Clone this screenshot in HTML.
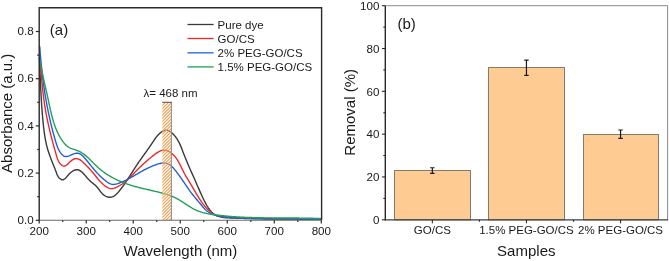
<!DOCTYPE html>
<html><head><meta charset="utf-8">
<style>
html,body{margin:0;padding:0;background:#fff;}
body{width:669px;height:261px;overflow:hidden;}
svg{display:block;will-change:transform;}
text{font-family:"Liberation Sans",sans-serif;fill:#1a1a1a;}
.t12{font-size:11.6px;}
.t11{font-size:11.6px;}
.t115{font-size:11.5px;}
.t15{font-size:15px;}
</style></head><body>
<svg width="669" height="261" viewBox="0 0 669 261">
<rect width="669" height="261" fill="#fff"/>
<path d="M39.52 57.99 L39.56 59.07 L39.60 60.15 L39.64 61.24 L39.68 62.32 L39.72 63.40 L39.76 64.48 L39.80 65.56 L39.84 66.64 L39.88 67.72 L39.92 68.80 L39.96 69.88 L40.00 70.96 L40.04 72.04 L40.08 73.12 L40.12 74.20 L40.16 75.28 L40.21 76.36 L40.25 77.44 L40.29 78.52 L40.34 79.59 L40.38 80.67 L40.43 81.75 L40.47 82.83 L40.52 83.91 L40.57 84.99 L40.61 86.07 L40.66 87.14 L40.71 88.22 L40.76 89.30 L40.82 90.38 L40.87 91.45 L40.92 92.53 L40.98 93.61 L41.04 94.69 L41.10 95.76 L41.16 96.84 L41.22 97.92 L41.28 99.00 L41.34 100.07 L41.41 101.15 L41.48 102.23 L41.55 103.31 L41.62 104.38 L41.69 105.46 L41.76 106.54 L41.84 107.61 L41.92 108.69 L42.00 109.77 L42.08 110.84 L42.17 111.92 L42.25 113.00 L42.34 114.07 L42.43 115.15 L42.53 116.23 L42.62 117.30 L42.72 118.38 L42.82 119.46 L42.92 120.53 L43.03 121.61 L43.14 122.69 L43.25 123.76 L43.36 124.84 L43.48 125.92 L43.60 127.00 L43.72 128.07 L43.85 129.15 L43.98 130.22 L44.12 131.30 L44.26 132.37 L44.41 133.44 L44.56 134.51 L44.72 135.58 L44.89 136.65 L45.07 137.71 L45.25 138.78 L45.45 139.84 L45.65 140.89 L45.86 141.95 L46.09 143.00 L46.32 144.05 L46.56 145.10 L46.82 146.14 L47.09 147.18 L47.37 148.21 L47.66 149.24 L47.97 150.27 L48.29 151.29 L48.62 152.31 L48.96 153.32 L49.32 154.34 L49.68 155.35 L50.04 156.36 L50.42 157.37 L50.80 158.38 L51.19 159.38 L51.59 160.39 L51.98 161.40 L52.38 162.40 L52.79 163.41 L53.19 164.42 L53.60 165.44 L54.00 166.45 L54.41 167.47 L54.81 168.49 L55.21 169.51 L55.61 170.54 L56.00 171.57 L56.39 172.61 L56.78 173.65 L57.18 174.68 L57.63 175.68 L58.14 176.62 L58.75 177.51 L59.48 178.30 L60.32 178.97 L61.22 179.47 L62.13 179.74 L63.01 179.75 L63.83 179.48 L64.63 178.99 L65.40 178.32 L66.16 177.51 L66.93 176.61 L67.71 175.67 L68.53 174.73 L69.39 173.83 L70.29 172.97 L71.21 172.19 L72.15 171.49 L73.10 170.88 L74.06 170.38 L75.01 170.01 L75.95 169.78 L76.87 169.70 L77.76 169.78 L78.63 170.00 L79.49 170.36 L80.32 170.84 L81.14 171.43 L81.94 172.10 L82.73 172.85 L83.52 173.66 L84.29 174.52 L85.07 175.41 L85.84 176.32 L86.61 177.23 L87.38 178.13 L88.16 179.01 L88.94 179.84 L89.73 180.63 L90.53 181.35 L91.34 182.04 L92.15 182.69 L92.95 183.33 L93.74 183.96 L94.52 184.60 L95.29 185.26 L96.03 185.96 L96.74 186.72 L97.43 187.52 L98.11 188.38 L98.77 189.26 L99.43 190.15 L100.11 191.05 L100.81 191.94 L101.53 192.81 L102.30 193.63 L103.11 194.41 L103.98 195.11 L104.92 195.74 L105.91 196.28 L106.95 196.72 L107.99 197.03 L109.03 197.22 L110.05 197.27 L111.03 197.18 L111.98 196.96 L112.89 196.62 L113.77 196.18 L114.63 195.64 L115.46 195.01 L116.26 194.31 L117.04 193.56 L117.80 192.75 L118.54 191.91 L119.26 191.04 L119.97 190.15 L120.66 189.27 L121.34 188.38 L122.01 187.48 L122.67 186.59 L123.32 185.70 L123.96 184.80 L124.58 183.90 L125.20 183.01 L125.81 182.11 L126.42 181.21 L127.02 180.31 L127.61 179.41 L128.19 178.50 L128.78 177.60 L129.35 176.70 L129.93 175.80 L130.50 174.90 L131.07 173.99 L131.64 173.09 L132.21 172.19 L132.78 171.29 L133.35 170.39 L133.92 169.49 L134.49 168.59 L135.07 167.70 L135.65 166.80 L136.23 165.91 L136.82 165.01 L137.41 164.12 L138.02 163.23 L138.62 162.34 L139.24 161.45 L139.85 160.57 L140.48 159.68 L141.10 158.80 L141.73 157.92 L142.37 157.03 L143.00 156.15 L143.64 155.27 L144.27 154.38 L144.91 153.50 L145.55 152.62 L146.18 151.73 L146.82 150.85 L147.45 149.96 L148.08 149.08 L148.70 148.19 L149.32 147.30 L149.94 146.41 L150.55 145.51 L151.15 144.62 L151.75 143.72 L152.34 142.82 L152.93 141.92 L153.52 141.02 L154.11 140.13 L154.72 139.24 L155.34 138.37 L155.98 137.50 L156.64 136.66 L157.33 135.83 L158.05 135.03 L158.80 134.24 L159.60 133.49 L160.44 132.76 L161.33 132.06 L162.27 131.42 L163.24 130.86 L164.24 130.42 L165.26 130.15 L166.28 130.09 L167.30 130.25 L168.30 130.60 L169.27 131.11 L170.22 131.71 L171.12 132.38 L171.98 133.07 L172.79 133.80 L173.56 134.56 L174.30 135.34 L174.99 136.15 L175.65 136.99 L176.28 137.85 L176.88 138.73 L177.45 139.63 L177.99 140.54 L178.51 141.48 L179.00 142.43 L179.48 143.39 L179.94 144.37 L180.38 145.36 L180.81 146.35 L181.22 147.36 L181.63 148.37 L182.03 149.38 L182.42 150.40 L182.81 151.42 L183.21 152.44 L183.60 153.46 L183.99 154.48 L184.39 155.49 L184.79 156.51 L185.20 157.51 L185.60 158.52 L186.01 159.52 L186.43 160.52 L186.84 161.52 L187.26 162.52 L187.68 163.51 L188.11 164.51 L188.53 165.50 L188.96 166.49 L189.39 167.48 L189.82 168.46 L190.25 169.45 L190.68 170.43 L191.12 171.42 L191.55 172.40 L191.99 173.38 L192.43 174.37 L192.86 175.35 L193.30 176.33 L193.74 177.31 L194.18 178.29 L194.61 179.28 L195.05 180.26 L195.49 181.24 L195.92 182.23 L196.36 183.21 L196.79 184.20 L197.22 185.18 L197.66 186.17 L198.09 187.16 L198.52 188.15 L198.95 189.14 L199.38 190.13 L199.81 191.12 L200.24 192.11 L200.68 193.10 L201.12 194.09 L201.56 195.08 L202.02 196.06 L202.47 197.05 L202.94 198.03 L203.41 199.01 L203.89 199.98 L204.38 200.95 L204.88 201.92 L205.40 202.88 L205.92 203.84 L206.46 204.80 L207.01 205.75 L207.58 206.68 L208.16 207.61 L208.76 208.52 L209.39 209.40 L210.04 210.26 L210.71 211.09 L211.42 211.88 L212.15 212.62 L212.91 213.32 L213.71 213.98 L214.55 214.57 L215.43 215.10 L216.34 215.58 L217.29 215.99 L218.27 216.35 L219.29 216.66 L220.33 216.92 L221.39 217.15 L222.47 217.33 L223.57 217.48 L224.69 217.60 L225.81 217.70 L226.94 217.78 L228.07 217.84 L229.20 217.89 L230.33 217.94 L231.45 217.98 L232.57 218.02 L233.67 218.06 L234.77 218.10 L235.86 218.14 L236.94 218.18 L238.02 218.22 L239.10 218.26 L240.17 218.30 L241.23 218.34 L242.30 218.38 L243.36 218.42 L244.42 218.46 L245.48 218.50 L246.55 218.53 L247.61 218.57 L248.68 218.60 L249.74 218.63 L250.81 218.66 L251.88 218.69 L252.95 218.71 L254.02 218.74 L255.09 218.77 L256.17 218.79 L257.24 218.81 L258.31 218.83 L259.39 218.85 L260.46 218.87 L261.54 218.89 L262.62 218.91 L263.70 218.93 L264.77 218.94 L265.85 218.96 L266.93 218.97 L268.01 218.99 L269.09 219.00 L270.18 219.01 L271.26 219.02 L272.34 219.03 L273.42 219.04 L274.51 219.05 L275.59 219.06 L276.67 219.07 L277.76 219.08 L278.84 219.09 L279.92 219.09 L281.01 219.10 L282.09 219.11 L283.18 219.12 L284.26 219.12 L285.35 219.13 L286.43 219.13 L287.52 219.14 L288.60 219.14 L289.69 219.15 L290.77 219.16 L291.86 219.16 L292.94 219.17 L294.02 219.17 L295.11 219.18 L296.19 219.18 L297.27 219.19 L298.36 219.20 L299.44 219.20 L300.52 219.21 L301.60 219.22 L302.68 219.22 L303.76 219.23 L304.84 219.24 L305.92 219.25 L307.00 219.26 L308.08 219.26 L309.16 219.27 L310.23 219.29 L311.31 219.30 L312.38 219.31 L313.46 219.32 L314.53 219.33 L315.61 219.35 L316.68 219.36 L317.75 219.38 L318.82 219.39 L319.89 219.41 L320.95 219.43" fill="none" stroke="#3a3a3a" stroke-width="1.4" stroke-linejoin="round"/>
<path d="M39.38 57.00 L39.50 57.96 L39.61 58.91 L39.72 59.87 L39.83 60.82 L39.94 61.78 L40.04 62.74 L40.14 63.69 L40.24 64.65 L40.34 65.61 L40.44 66.57 L40.54 67.53 L40.63 68.49 L40.73 69.45 L40.82 70.41 L40.92 71.37 L41.01 72.33 L41.10 73.29 L41.19 74.25 L41.28 75.21 L41.37 76.18 L41.46 77.14 L41.55 78.10 L41.64 79.06 L41.73 80.02 L41.83 80.98 L41.92 81.95 L42.01 82.91 L42.10 83.87 L42.20 84.83 L42.30 85.79 L42.39 86.75 L42.49 87.72 L42.59 88.68 L42.69 89.64 L42.80 90.60 L42.90 91.56 L43.01 92.52 L43.12 93.48 L43.23 94.44 L43.35 95.39 L43.46 96.35 L43.58 97.31 L43.71 98.27 L43.83 99.22 L43.96 100.18 L44.09 101.13 L44.23 102.09 L44.37 103.04 L44.51 104.00 L44.66 104.95 L44.81 105.90 L44.96 106.85 L45.11 107.80 L45.27 108.75 L45.43 109.70 L45.60 110.65 L45.77 111.60 L45.94 112.55 L46.11 113.49 L46.29 114.44 L46.47 115.39 L46.66 116.33 L46.84 117.28 L47.03 118.22 L47.22 119.17 L47.42 120.11 L47.62 121.05 L47.82 122.00 L48.02 122.94 L48.23 123.88 L48.43 124.82 L48.64 125.76 L48.86 126.70 L49.07 127.64 L49.29 128.58 L49.51 129.52 L49.74 130.46 L49.96 131.40 L50.19 132.34 L50.42 133.27 L50.65 134.21 L50.88 135.15 L51.12 136.09 L51.36 137.02 L51.60 137.96 L51.84 138.89 L52.09 139.83 L52.33 140.77 L52.58 141.70 L52.83 142.64 L53.08 143.57 L53.34 144.51 L53.59 145.44 L53.85 146.37 L54.11 147.31 L54.37 148.24 L54.63 149.17 L54.90 150.11 L55.16 151.04 L55.43 151.97 L55.70 152.91 L55.97 153.84 L56.24 154.77 L56.51 155.71 L56.79 156.64 L57.07 157.57 L57.38 158.49 L57.72 159.41 L58.11 160.31 L58.54 161.20 L59.04 162.08 L59.61 162.93 L60.23 163.74 L60.92 164.47 L61.64 165.11 L62.39 165.61 L63.16 165.94 L63.94 166.09 L64.71 166.02 L65.47 165.75 L66.24 165.32 L67.00 164.76 L67.75 164.10 L68.51 163.37 L69.28 162.60 L70.05 161.84 L70.84 161.11 L71.65 160.44 L72.49 159.86 L73.34 159.38 L74.21 159.02 L75.08 158.77 L75.95 158.64 L76.82 158.65 L77.67 158.79 L78.51 159.05 L79.34 159.43 L80.15 159.91 L80.95 160.46 L81.73 161.07 L82.50 161.73 L83.26 162.43 L84.00 163.14 L84.73 163.85 L85.44 164.55 L86.14 165.25 L86.82 165.95 L87.50 166.65 L88.16 167.34 L88.81 168.04 L89.46 168.73 L90.09 169.43 L90.72 170.14 L91.34 170.84 L91.96 171.56 L92.57 172.28 L93.18 173.00 L93.78 173.74 L94.38 174.48 L94.98 175.22 L95.58 175.97 L96.18 176.72 L96.79 177.47 L97.40 178.22 L98.02 178.96 L98.65 179.70 L99.29 180.43 L99.94 181.16 L100.61 181.87 L101.28 182.57 L101.98 183.25 L102.69 183.92 L103.41 184.58 L104.16 185.21 L104.94 185.83 L105.73 186.41 L106.54 186.95 L107.37 187.43 L108.21 187.85 L109.07 188.19 L109.95 188.44 L110.84 188.58 L111.74 188.61 L112.64 188.54 L113.56 188.36 L114.47 188.10 L115.39 187.76 L116.30 187.37 L117.20 186.94 L118.09 186.48 L118.97 186.00 L119.83 185.51 L120.67 185.01 L121.50 184.50 L122.31 183.98 L123.11 183.44 L123.89 182.88 L124.66 182.30 L125.41 181.69 L126.15 181.06 L126.87 180.41 L127.59 179.75 L128.29 179.07 L128.99 178.38 L129.68 177.68 L130.36 176.98 L131.04 176.27 L131.72 175.57 L132.39 174.87 L133.06 174.18 L133.73 173.49 L134.40 172.81 L135.07 172.13 L135.74 171.45 L136.40 170.78 L137.07 170.10 L137.74 169.44 L138.41 168.77 L139.09 168.11 L139.76 167.45 L140.44 166.80 L141.12 166.15 L141.81 165.49 L142.50 164.85 L143.19 164.20 L143.89 163.55 L144.59 162.91 L145.30 162.27 L146.02 161.63 L146.74 160.99 L147.47 160.35 L148.20 159.72 L148.95 159.08 L149.70 158.44 L150.46 157.81 L151.23 157.17 L152.01 156.54 L152.80 155.90 L153.60 155.27 L154.41 154.64 L155.23 154.01 L156.06 153.41 L156.90 152.83 L157.75 152.29 L158.60 151.79 L159.46 151.34 L160.32 150.95 L161.20 150.63 L162.07 150.38 L162.95 150.22 L163.83 150.15 L164.72 150.18 L165.61 150.30 L166.49 150.51 L167.36 150.80 L168.22 151.16 L169.07 151.59 L169.90 152.08 L170.71 152.61 L171.49 153.20 L172.25 153.82 L172.97 154.47 L173.66 155.15 L174.32 155.85 L174.95 156.57 L175.55 157.32 L176.13 158.09 L176.68 158.87 L177.21 159.67 L177.73 160.49 L178.22 161.32 L178.70 162.16 L179.17 163.01 L179.62 163.88 L180.07 164.74 L180.51 165.62 L180.94 166.50 L181.37 167.38 L181.79 168.26 L182.22 169.15 L182.65 170.03 L183.08 170.90 L183.51 171.77 L183.96 172.64 L184.41 173.50 L184.88 174.35 L185.35 175.19 L185.83 176.03 L186.31 176.86 L186.80 177.68 L187.30 178.51 L187.80 179.33 L188.30 180.14 L188.80 180.96 L189.30 181.78 L189.80 182.60 L190.29 183.41 L190.79 184.23 L191.28 185.06 L191.77 185.88 L192.26 186.71 L192.74 187.54 L193.22 188.37 L193.71 189.20 L194.19 190.03 L194.67 190.87 L195.16 191.70 L195.64 192.53 L196.13 193.36 L196.62 194.19 L197.12 195.02 L197.62 195.84 L198.12 196.67 L198.63 197.49 L199.15 198.31 L199.68 199.12 L200.21 199.93 L200.75 200.73 L201.30 201.53 L201.86 202.33 L202.42 203.12 L203.00 203.90 L203.59 204.68 L204.20 205.45 L204.81 206.21 L205.44 206.95 L206.08 207.68 L206.74 208.40 L207.41 209.10 L208.10 209.77 L208.80 210.42 L209.52 211.05 L210.26 211.65 L211.02 212.23 L211.79 212.77 L212.58 213.28 L213.39 213.75 L214.23 214.19 L215.08 214.58 L215.96 214.94 L216.85 215.26 L217.76 215.54 L218.69 215.79 L219.63 216.01 L220.58 216.21 L221.54 216.38 L222.51 216.53 L223.49 216.66 L224.47 216.78 L225.45 216.88 L226.44 216.98 L227.42 217.08 L228.39 217.16 L229.37 217.25 L230.35 217.33 L231.32 217.40 L232.29 217.47 L233.26 217.54 L234.23 217.60 L235.20 217.66 L236.16 217.72 L237.13 217.77 L238.09 217.82 L239.06 217.86 L240.02 217.90 L240.98 217.94 L241.94 217.98 L242.90 218.02 L243.86 218.05 L244.82 218.08 L245.78 218.11 L246.74 218.14 L247.70 218.16 L248.66 218.19 L249.62 218.21 L250.57 218.23 L251.53 218.25 L252.49 218.27 L253.45 218.29 L254.41 218.31 L255.37 218.33 L256.33 218.35 L257.30 218.36 L258.26 218.38 L259.22 218.40 L260.18 218.42 L261.14 218.43 L262.11 218.45 L263.07 218.46 L264.04 218.48 L265.00 218.49 L265.96 218.51 L266.93 218.52 L267.89 218.53 L268.86 218.55 L269.82 218.56 L270.79 218.57 L271.75 218.58 L272.72 218.59 L273.69 218.61 L274.65 218.62 L275.62 218.63 L276.58 218.64 L277.55 218.65 L278.52 218.66 L279.48 218.67 L280.45 218.68 L281.42 218.69 L282.39 218.70 L283.35 218.70 L284.32 218.71 L285.29 218.72 L286.25 218.73 L287.22 218.74 L288.19 218.75 L289.16 218.75 L290.12 218.76 L291.09 218.77 L292.06 218.78 L293.02 218.78 L293.99 218.79 L294.96 218.80 L295.92 218.81 L296.89 218.81 L297.86 218.82 L298.82 218.83 L299.79 218.83 L300.75 218.84 L301.72 218.85 L302.69 218.85 L303.65 218.86 L304.62 218.87 L305.58 218.88 L306.55 218.88 L307.51 218.89 L308.47 218.90 L309.44 218.90 L310.40 218.91 L311.37 218.92 L312.33 218.93 L313.29 218.93 L314.25 218.94 L315.21 218.95 L316.18 218.96 L317.14 218.96 L318.10 218.97 L319.06 218.98 L320.02 218.99 L320.98 219.00" fill="none" stroke="#ee2a24" stroke-width="1.4" stroke-linejoin="round"/>
<path d="M39.73 46.20 L39.79 47.13 L39.86 48.06 L39.92 48.99 L39.99 49.92 L40.06 50.84 L40.13 51.77 L40.20 52.70 L40.27 53.62 L40.34 54.55 L40.42 55.47 L40.49 56.39 L40.57 57.32 L40.65 58.24 L40.73 59.16 L40.81 60.08 L40.90 61.00 L40.98 61.92 L41.07 62.84 L41.16 63.76 L41.25 64.68 L41.34 65.59 L41.43 66.51 L41.52 67.43 L41.62 68.34 L41.72 69.26 L41.81 70.17 L41.91 71.09 L42.02 72.00 L42.12 72.92 L42.22 73.83 L42.33 74.74 L42.44 75.65 L42.55 76.57 L42.66 77.48 L42.77 78.39 L42.89 79.30 L43.01 80.21 L43.13 81.12 L43.25 82.03 L43.37 82.94 L43.49 83.84 L43.62 84.75 L43.74 85.66 L43.87 86.57 L44.00 87.47 L44.14 88.38 L44.27 89.29 L44.41 90.19 L44.55 91.10 L44.69 92.00 L44.83 92.91 L44.97 93.81 L45.12 94.72 L45.27 95.62 L45.42 96.53 L45.57 97.43 L45.72 98.33 L45.88 99.24 L46.04 100.14 L46.20 101.04 L46.36 101.94 L46.52 102.85 L46.69 103.75 L46.86 104.65 L47.03 105.55 L47.20 106.45 L47.37 107.36 L47.55 108.26 L47.73 109.16 L47.91 110.06 L48.09 110.96 L48.28 111.86 L48.46 112.76 L48.65 113.66 L48.84 114.56 L49.04 115.46 L49.23 116.36 L49.43 117.26 L49.63 118.16 L49.84 119.06 L50.04 119.96 L50.25 120.86 L50.46 121.76 L50.67 122.66 L50.89 123.56 L51.10 124.45 L51.32 125.35 L51.54 126.25 L51.77 127.15 L51.99 128.05 L52.22 128.95 L52.45 129.85 L52.69 130.75 L52.92 131.65 L53.16 132.55 L53.40 133.45 L53.65 134.35 L53.89 135.25 L54.14 136.15 L54.39 137.05 L54.64 137.95 L54.90 138.85 L55.16 139.75 L55.42 140.65 L55.68 141.55 L55.95 142.45 L56.23 143.34 L56.51 144.23 L56.80 145.12 L57.10 145.99 L57.42 146.86 L57.76 147.71 L58.12 148.54 L58.49 149.36 L58.90 150.16 L59.32 150.93 L59.78 151.69 L60.27 152.41 L60.79 153.11 L61.35 153.78 L61.94 154.41 L62.58 155.02 L63.25 155.57 L63.97 156.04 L64.73 156.37 L65.54 156.53 L66.38 156.54 L67.25 156.42 L68.14 156.20 L69.05 155.90 L69.96 155.54 L70.87 155.14 L71.79 154.73 L72.70 154.33 L73.60 153.95 L74.50 153.63 L75.38 153.37 L76.24 153.21 L77.08 153.17 L77.89 153.24 L78.69 153.42 L79.47 153.70 L80.22 154.07 L80.96 154.52 L81.68 155.05 L82.38 155.63 L83.07 156.27 L83.75 156.96 L84.41 157.67 L85.06 158.42 L85.70 159.18 L86.33 159.95 L86.95 160.71 L87.57 161.47 L88.17 162.23 L88.78 162.97 L89.37 163.71 L89.96 164.45 L90.55 165.18 L91.13 165.90 L91.72 166.62 L92.30 167.33 L92.88 168.04 L93.46 168.74 L94.04 169.43 L94.63 170.12 L95.22 170.80 L95.81 171.47 L96.41 172.14 L97.01 172.81 L97.62 173.46 L98.23 174.12 L98.86 174.76 L99.49 175.40 L100.13 176.04 L100.78 176.66 L101.45 177.29 L102.12 177.90 L102.81 178.51 L103.51 179.12 L104.23 179.72 L104.96 180.31 L105.71 180.90 L106.47 181.48 L107.26 182.04 L108.05 182.58 L108.87 183.07 L109.70 183.51 L110.54 183.87 L111.40 184.16 L112.27 184.35 L113.16 184.43 L114.05 184.41 L114.95 184.31 L115.86 184.13 L116.76 183.91 L117.66 183.64 L118.55 183.34 L119.44 183.03 L120.31 182.71 L121.17 182.36 L122.03 182.00 L122.88 181.63 L123.73 181.25 L124.57 180.85 L125.40 180.45 L126.22 180.03 L127.04 179.61 L127.86 179.18 L128.67 178.75 L129.48 178.31 L130.29 177.87 L131.09 177.42 L131.89 176.97 L132.69 176.52 L133.49 176.07 L134.28 175.61 L135.07 175.15 L135.87 174.69 L136.66 174.23 L137.45 173.78 L138.24 173.32 L139.04 172.86 L139.83 172.41 L140.63 171.95 L141.43 171.50 L142.23 171.06 L143.03 170.62 L143.84 170.18 L144.65 169.74 L145.46 169.32 L146.28 168.89 L147.10 168.48 L147.93 168.07 L148.76 167.67 L149.60 167.28 L150.44 166.89 L151.29 166.52 L152.15 166.15 L153.01 165.79 L153.88 165.45 L154.76 165.11 L155.65 164.79 L156.55 164.48 L157.45 164.19 L158.35 163.92 L159.26 163.67 L160.17 163.46 L161.08 163.28 L161.97 163.15 L162.87 163.06 L163.75 163.03 L164.62 163.04 L165.48 163.12 L166.32 163.27 L167.14 163.49 L167.94 163.78 L168.72 164.15 L169.47 164.59 L170.21 165.10 L170.92 165.66 L171.62 166.27 L172.30 166.93 L172.96 167.62 L173.61 168.34 L174.24 169.08 L174.86 169.84 L175.47 170.60 L176.07 171.36 L176.66 172.12 L177.24 172.88 L177.81 173.64 L178.37 174.41 L178.92 175.17 L179.47 175.93 L180.00 176.69 L180.54 177.45 L181.07 178.20 L181.59 178.96 L182.11 179.72 L182.62 180.47 L183.14 181.23 L183.65 181.98 L184.16 182.73 L184.66 183.48 L185.17 184.23 L185.68 184.98 L186.19 185.72 L186.70 186.47 L187.21 187.21 L187.72 187.95 L188.24 188.69 L188.76 189.42 L189.29 190.15 L189.82 190.89 L190.35 191.61 L190.90 192.34 L191.45 193.06 L192.00 193.78 L192.57 194.50 L193.14 195.21 L193.72 195.93 L194.30 196.64 L194.89 197.35 L195.48 198.06 L196.08 198.77 L196.68 199.49 L197.28 200.20 L197.88 200.91 L198.49 201.63 L199.09 202.35 L199.70 203.07 L200.30 203.80 L200.91 204.53 L201.51 205.26 L202.12 205.98 L202.73 206.71 L203.35 207.42 L203.97 208.11 L204.61 208.79 L205.26 209.44 L205.93 210.07 L206.61 210.66 L207.31 211.22 L208.04 211.75 L208.77 212.25 L209.53 212.71 L210.30 213.14 L211.09 213.55 L211.89 213.93 L212.71 214.28 L213.54 214.61 L214.38 214.91 L215.24 215.19 L216.10 215.45 L216.98 215.68 L217.86 215.90 L218.76 216.10 L219.66 216.28 L220.57 216.44 L221.48 216.59 L222.40 216.73 L223.33 216.85 L224.26 216.96 L225.19 217.06 L226.13 217.15 L227.07 217.23 L228.01 217.31 L228.95 217.37 L229.89 217.44 L230.83 217.50 L231.77 217.55 L232.70 217.61 L233.63 217.66 L234.57 217.71 L235.50 217.76 L236.42 217.80 L237.35 217.85 L238.27 217.89 L239.20 217.93 L240.12 217.97 L241.04 218.01 L241.96 218.04 L242.87 218.08 L243.79 218.11 L244.71 218.14 L245.62 218.17 L246.54 218.20 L247.45 218.23 L248.36 218.26 L249.27 218.28 L250.19 218.31 L251.10 218.33 L252.01 218.35 L252.92 218.38 L253.83 218.40 L254.74 218.42 L255.66 218.44 L256.57 218.46 L257.48 218.48 L258.39 218.50 L259.31 218.52 L260.22 218.54 L261.13 218.56 L262.05 218.57 L262.96 218.59 L263.88 218.61 L264.80 218.63 L265.71 218.64 L266.63 218.66 L267.55 218.68 L268.47 218.70 L269.39 218.71 L270.31 218.73 L271.23 218.74 L272.15 218.76 L273.07 218.78 L273.99 218.79 L274.92 218.81 L275.84 218.82 L276.76 218.84 L277.68 218.85 L278.61 218.87 L279.53 218.88 L280.45 218.89 L281.38 218.91 L282.30 218.92 L283.22 218.93 L284.15 218.95 L285.07 218.96 L286.00 218.97 L286.92 218.99 L287.85 219.00 L288.77 219.01 L289.69 219.02 L290.62 219.03 L291.54 219.05 L292.47 219.06 L293.39 219.07 L294.31 219.08 L295.24 219.09 L296.16 219.10 L297.09 219.11 L298.01 219.12 L298.93 219.13 L299.86 219.14 L300.78 219.15 L301.70 219.16 L302.62 219.17 L303.54 219.18 L304.46 219.19 L305.39 219.19 L306.31 219.20 L307.23 219.21 L308.15 219.22 L309.06 219.22 L309.98 219.23 L310.90 219.24 L311.82 219.25 L312.74 219.25 L313.65 219.26 L314.57 219.26 L315.48 219.27 L316.40 219.28 L317.31 219.28 L318.23 219.29 L319.14 219.29 L320.05 219.30 L320.96 219.30" fill="none" stroke="#1f5fdc" stroke-width="1.4" stroke-linejoin="round"/>
<path d="M40.47 61.90 L40.59 62.72 L40.71 63.53 L40.83 64.35 L40.96 65.16 L41.09 65.97 L41.23 66.77 L41.37 67.58 L41.51 68.38 L41.65 69.18 L41.80 69.97 L41.94 70.77 L42.09 71.56 L42.25 72.35 L42.40 73.14 L42.56 73.93 L42.72 74.72 L42.88 75.51 L43.04 76.29 L43.21 77.07 L43.37 77.86 L43.54 78.64 L43.71 79.42 L43.88 80.20 L44.05 80.98 L44.22 81.76 L44.39 82.53 L44.57 83.31 L44.74 84.09 L44.92 84.87 L45.10 85.64 L45.27 86.42 L45.45 87.20 L45.63 87.97 L45.80 88.75 L45.98 89.53 L46.16 90.31 L46.34 91.09 L46.51 91.87 L46.69 92.65 L46.87 93.43 L47.04 94.21 L47.22 94.99 L47.39 95.78 L47.56 96.57 L47.74 97.35 L47.91 98.14 L48.08 98.93 L48.25 99.72 L48.42 100.52 L48.59 101.31 L48.75 102.10 L48.92 102.90 L49.09 103.70 L49.26 104.49 L49.43 105.29 L49.60 106.09 L49.77 106.88 L49.95 107.68 L50.12 108.48 L50.30 109.28 L50.48 110.07 L50.66 110.87 L50.84 111.66 L51.03 112.46 L51.22 113.25 L51.41 114.04 L51.60 114.83 L51.80 115.62 L52.00 116.41 L52.21 117.20 L52.42 117.98 L52.64 118.76 L52.86 119.54 L53.08 120.32 L53.31 121.10 L53.55 121.87 L53.79 122.64 L54.03 123.41 L54.28 124.17 L54.54 124.93 L54.81 125.69 L55.08 126.45 L55.36 127.20 L55.64 127.94 L55.93 128.69 L56.23 129.43 L56.54 130.16 L56.85 130.90 L57.18 131.62 L57.51 132.35 L57.85 133.06 L58.20 133.78 L58.56 134.49 L58.92 135.19 L59.30 135.89 L59.69 136.58 L60.08 137.27 L60.49 137.95 L60.91 138.63 L61.33 139.30 L61.77 139.96 L62.22 140.62 L62.68 141.27 L63.15 141.91 L63.64 142.54 L64.15 143.15 L64.66 143.74 L65.20 144.32 L65.75 144.88 L66.33 145.41 L66.92 145.92 L67.54 146.41 L68.17 146.86 L68.84 147.28 L69.52 147.68 L70.23 148.03 L70.97 148.35 L71.72 148.65 L72.49 148.92 L73.27 149.18 L74.06 149.43 L74.84 149.69 L75.62 149.95 L76.39 150.22 L77.16 150.51 L77.91 150.82 L78.65 151.14 L79.38 151.48 L80.09 151.84 L80.79 152.22 L81.48 152.62 L82.16 153.04 L82.82 153.48 L83.48 153.93 L84.12 154.40 L84.75 154.88 L85.38 155.38 L85.99 155.89 L86.60 156.41 L87.20 156.95 L87.79 157.49 L88.38 158.04 L88.96 158.60 L89.54 159.16 L90.12 159.73 L90.69 160.31 L91.26 160.88 L91.83 161.46 L92.40 162.05 L92.97 162.63 L93.54 163.21 L94.12 163.79 L94.69 164.36 L95.27 164.93 L95.85 165.50 L96.44 166.06 L97.03 166.61 L97.63 167.16 L98.23 167.70 L98.84 168.23 L99.46 168.75 L100.08 169.27 L100.70 169.78 L101.33 170.28 L101.97 170.77 L102.61 171.26 L103.25 171.74 L103.90 172.22 L104.55 172.68 L105.21 173.14 L105.87 173.60 L106.54 174.04 L107.21 174.48 L107.89 174.91 L108.57 175.34 L109.25 175.76 L109.94 176.17 L110.63 176.58 L111.33 176.97 L112.03 177.37 L112.73 177.75 L113.44 178.13 L114.15 178.50 L114.87 178.87 L115.58 179.23 L116.31 179.58 L117.03 179.92 L117.76 180.26 L118.49 180.60 L119.22 180.92 L119.96 181.24 L120.70 181.56 L121.45 181.87 L122.19 182.17 L122.94 182.47 L123.69 182.76 L124.44 183.04 L125.20 183.32 L125.96 183.60 L126.72 183.87 L127.48 184.13 L128.24 184.39 L129.00 184.65 L129.77 184.90 L130.54 185.14 L131.31 185.38 L132.08 185.62 L132.85 185.85 L133.63 186.07 L134.40 186.30 L135.17 186.51 L135.95 186.73 L136.73 186.94 L137.51 187.15 L138.29 187.35 L139.07 187.55 L139.85 187.75 L140.63 187.95 L141.41 188.14 L142.19 188.33 L142.98 188.52 L143.76 188.71 L144.54 188.89 L145.33 189.08 L146.11 189.26 L146.90 189.44 L147.68 189.62 L148.47 189.80 L149.25 189.98 L150.04 190.16 L150.83 190.34 L151.61 190.52 L152.40 190.70 L153.18 190.88 L153.97 191.06 L154.75 191.24 L155.54 191.42 L156.32 191.60 L157.11 191.79 L157.89 191.98 L158.67 192.17 L159.45 192.36 L160.23 192.56 L161.01 192.76 L161.78 192.96 L162.56 193.17 L163.33 193.39 L164.10 193.61 L164.87 193.83 L165.64 194.06 L166.40 194.30 L167.16 194.55 L167.92 194.80 L168.67 195.06 L169.43 195.33 L170.18 195.61 L170.92 195.90 L171.66 196.19 L172.40 196.50 L173.14 196.81 L173.87 197.14 L174.59 197.47 L175.32 197.82 L176.04 198.18 L176.75 198.55 L177.46 198.93 L178.16 199.33 L178.87 199.73 L179.56 200.15 L180.26 200.57 L180.95 201.00 L181.64 201.43 L182.33 201.87 L183.01 202.31 L183.70 202.76 L184.38 203.21 L185.07 203.66 L185.75 204.11 L186.43 204.56 L187.12 205.01 L187.80 205.45 L188.49 205.89 L189.18 206.33 L189.87 206.76 L190.56 207.19 L191.26 207.60 L191.95 208.01 L192.66 208.41 L193.36 208.80 L194.07 209.18 L194.78 209.54 L195.50 209.89 L196.23 210.23 L196.96 210.55 L197.69 210.86 L198.44 211.15 L199.18 211.42 L199.93 211.68 L200.69 211.93 L201.45 212.17 L202.21 212.39 L202.98 212.61 L203.76 212.81 L204.53 213.00 L205.31 213.18 L206.09 213.35 L206.88 213.52 L207.67 213.67 L208.46 213.82 L209.25 213.96 L210.04 214.09 L210.84 214.22 L211.63 214.34 L212.43 214.46 L213.23 214.58 L214.03 214.69 L214.83 214.79 L215.63 214.90 L216.43 215.00 L217.23 215.10 L218.03 215.20 L218.83 215.29 L219.63 215.38 L220.43 215.48 L221.24 215.56 L222.04 215.65 L222.84 215.73 L223.64 215.82 L224.44 215.90 L225.24 215.97 L226.04 216.05 L226.85 216.12 L227.65 216.20 L228.45 216.27 L229.25 216.33 L230.06 216.40 L230.86 216.46 L231.66 216.53 L232.46 216.59 L233.27 216.65 L234.07 216.70 L234.87 216.76 L235.67 216.81 L236.48 216.86 L237.28 216.91 L238.08 216.96 L238.89 217.01 L239.69 217.06 L240.49 217.10 L241.30 217.14 L242.10 217.18 L242.91 217.22 L243.71 217.26 L244.51 217.30 L245.32 217.33 L246.12 217.37 L246.93 217.40 L247.73 217.43 L248.53 217.46 L249.34 217.49 L250.14 217.52 L250.95 217.54 L251.75 217.57 L252.56 217.59 L253.36 217.62 L254.17 217.64 L254.97 217.66 L255.78 217.68 L256.58 217.70 L257.39 217.72 L258.19 217.74 L259.00 217.75 L259.80 217.77 L260.61 217.78 L261.41 217.80 L262.22 217.81 L263.02 217.82 L263.83 217.84 L264.63 217.85 L265.44 217.86 L266.24 217.87 L267.05 217.88 L267.85 217.89 L268.66 217.89 L269.46 217.90 L270.27 217.91 L271.08 217.92 L271.88 217.92 L272.69 217.93 L273.49 217.93 L274.30 217.94 L275.10 217.94 L275.91 217.95 L276.71 217.95 L277.52 217.96 L278.33 217.96 L279.13 217.96 L279.94 217.97 L280.74 217.97 L281.55 217.97 L282.35 217.98 L283.16 217.98 L283.97 217.98 L284.77 217.99 L285.58 217.99 L286.38 217.99 L287.19 218.00 L287.99 218.00 L288.80 218.00 L289.60 218.01 L290.41 218.01 L291.22 218.01 L292.02 218.02 L292.83 218.02 L293.63 218.03 L294.44 218.03 L295.24 218.04 L296.05 218.05 L296.85 218.05 L297.66 218.06 L298.46 218.07 L299.27 218.08 L300.07 218.09 L300.88 218.09 L301.68 218.10 L302.49 218.12 L303.29 218.13 L304.10 218.14 L304.90 218.15 L305.71 218.16 L306.51 218.18 L307.32 218.19 L308.12 218.21 L308.93 218.23 L309.73 218.24 L310.54 218.26 L311.34 218.28 L312.15 218.30 L312.95 218.32 L313.75 218.35 L314.56 218.37 L315.36 218.39 L316.17 218.42 L316.97 218.45 L317.77 218.47 L318.58 218.50 L319.38 218.53 L320.19 218.56 L320.99 218.60" fill="none" stroke="#22a055" stroke-width="1.4" stroke-linejoin="round"/>
<defs><clipPath id="hc"><rect x="162.30" y="102.30" width="9.10" height="118.00"/></clipPath></defs>
<rect x="162.30" y="102.30" width="9.10" height="118.00" fill="#fff" fill-opacity="0.3"/>
<path d="M160.30 40.30 L173.40 27.20 M160.30 43.50 L173.40 30.40 M160.30 46.70 L173.40 33.60 M160.30 49.90 L173.40 36.80 M160.30 53.10 L173.40 40.00 M160.30 56.30 L173.40 43.20 M160.30 59.50 L173.40 46.40 M160.30 62.70 L173.40 49.60 M160.30 65.90 L173.40 52.80 M160.30 69.10 L173.40 56.00 M160.30 72.30 L173.40 59.20 M160.30 75.50 L173.40 62.40 M160.30 78.70 L173.40 65.60 M160.30 81.90 L173.40 68.80 M160.30 85.10 L173.40 72.00 M160.30 88.30 L173.40 75.20 M160.30 91.50 L173.40 78.40 M160.30 94.70 L173.40 81.60 M160.30 97.90 L173.40 84.80 M160.30 101.10 L173.40 88.00 M160.30 104.30 L173.40 91.20 M160.30 107.50 L173.40 94.40 M160.30 110.70 L173.40 97.60 M160.30 113.90 L173.40 100.80 M160.30 117.10 L173.40 104.00 M160.30 120.30 L173.40 107.20 M160.30 123.50 L173.40 110.40 M160.30 126.70 L173.40 113.60 M160.30 129.90 L173.40 116.80 M160.30 133.10 L173.40 120.00 M160.30 136.30 L173.40 123.20 M160.30 139.50 L173.40 126.40 M160.30 142.70 L173.40 129.60 M160.30 145.90 L173.40 132.80 M160.30 149.10 L173.40 136.00 M160.30 152.30 L173.40 139.20 M160.30 155.50 L173.40 142.40 M160.30 158.70 L173.40 145.60 M160.30 161.90 L173.40 148.80 M160.30 165.10 L173.40 152.00 M160.30 168.30 L173.40 155.20 M160.30 171.50 L173.40 158.40 M160.30 174.70 L173.40 161.60 M160.30 177.90 L173.40 164.80 M160.30 181.10 L173.40 168.00 M160.30 184.30 L173.40 171.20 M160.30 187.50 L173.40 174.40 M160.30 190.70 L173.40 177.60 M160.30 193.90 L173.40 180.80 M160.30 197.10 L173.40 184.00 M160.30 200.30 L173.40 187.20 M160.30 203.50 L173.40 190.40 M160.30 206.70 L173.40 193.60 M160.30 209.90 L173.40 196.80 M160.30 213.10 L173.40 200.00 M160.30 216.30 L173.40 203.20 M160.30 219.50 L173.40 206.40 M160.30 222.70 L173.40 209.60 M160.30 225.90 L173.40 212.80 M160.30 229.10 L173.40 216.00 M160.30 232.30 L173.40 219.20 M160.30 235.50 L173.40 222.40 M160.30 238.70 L173.40 225.60 M160.30 241.90 L173.40 228.80 M160.30 245.10 L173.40 232.00 M160.30 248.30 L173.40 235.20 M160.30 251.50 L173.40 238.40 M160.30 254.70 L173.40 241.60 M160.30 257.90 L173.40 244.80 M160.30 261.10 L173.40 248.00 M160.30 264.30 L173.40 251.20 M160.30 267.50 L173.40 254.40 M160.30 270.70 L173.40 257.60 M160.30 273.90 L173.40 260.80 M160.30 277.10 L173.40 264.00 M160.30 280.30 L173.40 267.20 M160.30 283.50 L173.40 270.40 M160.30 286.70 L173.40 273.60 M160.30 289.90 L173.40 276.80 M160.30 293.10 L173.40 280.00 M160.30 296.30 L173.40 283.20 M160.30 299.50 L173.40 286.40 M160.30 302.70 L173.40 289.60 M160.30 305.90 L173.40 292.80 M160.30 309.10 L173.40 296.00 M160.30 312.30 L173.40 299.20 M160.30 315.50 L173.40 302.40 M160.30 318.70 L173.40 305.60 M160.30 321.90 L173.40 308.80 M160.30 325.10 L173.40 312.00 M160.30 328.30 L173.40 315.20 M160.30 331.50 L173.40 318.40 M160.30 334.70 L173.40 321.60 M160.30 337.90 L173.40 324.80 M160.30 341.10 L173.40 328.00 M160.30 344.30 L173.40 331.20 M160.30 347.50 L173.40 334.40 M160.30 350.70 L173.40 337.60 M160.30 353.90 L173.40 340.80 M160.30 357.10 L173.40 344.00 M160.30 360.30 L173.40 347.20 M160.30 363.50 L173.40 350.40 M160.30 366.70 L173.40 353.60 M160.30 369.90 L173.40 356.80 M160.30 373.10 L173.40 360.00 M160.30 376.30 L173.40 363.20 M160.30 379.50 L173.40 366.40 M160.30 382.70 L173.40 369.60 M160.30 385.90 L173.40 372.80 M160.30 389.10 L173.40 376.00 M160.30 392.30 L173.40 379.20 M160.30 395.50 L173.40 382.40 M160.30 398.70 L173.40 385.60 M160.30 401.90 L173.40 388.80 M160.30 405.10 L173.40 392.00 M160.30 408.30 L173.40 395.20 M160.30 411.50 L173.40 398.40 M160.30 414.70 L173.40 401.60 M160.30 417.90 L173.40 404.80 M160.30 421.10 L173.40 408.00 M160.30 424.30 L173.40 411.20 M160.30 427.50 L173.40 414.40 M160.30 430.70 L173.40 417.60 M160.30 433.90 L173.40 420.80 M160.30 437.10 L173.40 424.00 M160.30 440.30 L173.40 427.20 M160.30 443.50 L173.40 430.40 M160.30 446.70 L173.40 433.60 M160.30 449.90 L173.40 436.80 M160.30 453.10 L173.40 440.00 M160.30 456.30 L173.40 443.20 M160.30 459.50 L173.40 446.40 M160.30 462.70 L173.40 449.60 M160.30 465.90 L173.40 452.80 M160.30 469.10 L173.40 456.00 M160.30 472.30 L173.40 459.20 M160.30 475.50 L173.40 462.40 M160.30 478.70 L173.40 465.60 M160.30 481.90 L173.40 468.80 M160.30 485.10 L173.40 472.00 M160.30 488.30 L173.40 475.20 M160.30 491.50 L173.40 478.40 M160.30 494.70 L173.40 481.60 M160.30 497.90 L173.40 484.80 M160.30 501.10 L173.40 488.00 M160.30 504.30 L173.40 491.20 M160.30 507.50 L173.40 494.40 M160.30 510.70 L173.40 497.60 M160.30 513.90 L173.40 500.80 M160.30 517.10 L173.40 504.00 M160.30 520.30 L173.40 507.20 M160.30 523.50 L173.40 510.40 M160.30 526.70 L173.40 513.60 M160.30 529.90 L173.40 516.80 M160.30 533.10 L173.40 520.00 M160.30 536.30 L173.40 523.20 M160.30 539.50 L173.40 526.40 M160.30 542.70 L173.40 529.60 M160.30 545.90 L173.40 532.80 M160.30 549.10 L173.40 536.00" stroke="#f59a45" stroke-width="1.05" fill="none" clip-path="url(#hc)"/>
<line x1="171.40" y1="102.30" x2="171.40" y2="220.30" stroke="#8a8a8a" stroke-width="1"/>
<line x1="162.30" y1="102.30" x2="171.90" y2="102.30" stroke="#5a5a5a" stroke-width="1.1"/>
<path d="M39.20 220.80 V7.80 H321.60 V220.30" fill="none" stroke="#2a2a2a" stroke-width="1.4"/>
<line x1="39.20" y1="220.30" x2="321.60" y2="220.30" stroke="#6a6a6a" stroke-width="1.05"/>
<line x1="39.20" y1="220.30" x2="39.20" y2="223.50" stroke="#2a2a2a" stroke-width="1.2"/>
<line x1="62.71" y1="220.30" x2="62.71" y2="222.10" stroke="#2a2a2a" stroke-width="1.2"/>
<line x1="86.22" y1="220.30" x2="86.22" y2="223.50" stroke="#2a2a2a" stroke-width="1.2"/>
<line x1="109.73" y1="220.30" x2="109.73" y2="222.10" stroke="#2a2a2a" stroke-width="1.2"/>
<line x1="133.23" y1="220.30" x2="133.23" y2="223.50" stroke="#2a2a2a" stroke-width="1.2"/>
<line x1="156.74" y1="220.30" x2="156.74" y2="222.10" stroke="#2a2a2a" stroke-width="1.2"/>
<line x1="180.25" y1="220.30" x2="180.25" y2="223.50" stroke="#2a2a2a" stroke-width="1.2"/>
<line x1="203.76" y1="220.30" x2="203.76" y2="222.10" stroke="#2a2a2a" stroke-width="1.2"/>
<line x1="227.27" y1="220.30" x2="227.27" y2="223.50" stroke="#2a2a2a" stroke-width="1.2"/>
<line x1="250.78" y1="220.30" x2="250.78" y2="222.10" stroke="#2a2a2a" stroke-width="1.2"/>
<line x1="274.28" y1="220.30" x2="274.28" y2="223.50" stroke="#2a2a2a" stroke-width="1.2"/>
<line x1="297.79" y1="220.30" x2="297.79" y2="222.10" stroke="#2a2a2a" stroke-width="1.2"/>
<line x1="321.30" y1="220.30" x2="321.30" y2="223.50" stroke="#2a2a2a" stroke-width="1.2"/>
<line x1="35.80" y1="220.30" x2="39.20" y2="220.30" stroke="#2a2a2a" stroke-width="1.2"/>
<line x1="37.20" y1="196.70" x2="39.20" y2="196.70" stroke="#2a2a2a" stroke-width="1.2"/>
<line x1="35.80" y1="173.10" x2="39.20" y2="173.10" stroke="#2a2a2a" stroke-width="1.2"/>
<line x1="37.20" y1="149.50" x2="39.20" y2="149.50" stroke="#2a2a2a" stroke-width="1.2"/>
<line x1="35.80" y1="125.90" x2="39.20" y2="125.90" stroke="#2a2a2a" stroke-width="1.2"/>
<line x1="37.20" y1="102.30" x2="39.20" y2="102.30" stroke="#2a2a2a" stroke-width="1.2"/>
<line x1="35.80" y1="78.70" x2="39.20" y2="78.70" stroke="#2a2a2a" stroke-width="1.2"/>
<line x1="37.20" y1="55.10" x2="39.20" y2="55.10" stroke="#2a2a2a" stroke-width="1.2"/>
<line x1="35.80" y1="31.50" x2="39.20" y2="31.50" stroke="#2a2a2a" stroke-width="1.2"/>
<text x="33.6" y="223.90" text-anchor="end" class="t12">0.0</text>
<text x="33.6" y="176.70" text-anchor="end" class="t12">0.2</text>
<text x="33.6" y="129.50" text-anchor="end" class="t12">0.4</text>
<text x="33.6" y="82.30" text-anchor="end" class="t12">0.6</text>
<text x="33.6" y="35.10" text-anchor="end" class="t12">0.8</text>
<text x="39.20" y="235.2" text-anchor="middle" class="t12">200</text>
<text x="86.22" y="235.2" text-anchor="middle" class="t12">300</text>
<text x="133.23" y="235.2" text-anchor="middle" class="t12">400</text>
<text x="180.25" y="235.2" text-anchor="middle" class="t12">500</text>
<text x="227.27" y="235.2" text-anchor="middle" class="t12">600</text>
<text x="274.28" y="235.2" text-anchor="middle" class="t12">700</text>
<text x="321.30" y="235.2" text-anchor="middle" class="t12">800</text>
<line x1="187.5" y1="24.50" x2="213.6" y2="24.50" stroke="#3a3a3a" stroke-width="1.3"/>
<text x="217.6" y="28.65" class="t115">Pure dye</text>
<line x1="187.5" y1="38.50" x2="213.6" y2="38.50" stroke="#ee2a24" stroke-width="1.3"/>
<text x="217.6" y="42.65" class="t115">GO/CS</text>
<line x1="187.5" y1="52.85" x2="213.6" y2="52.85" stroke="#1f5fdc" stroke-width="1.3"/>
<text x="217.6" y="57.00" class="t115">2% PEG-GO/CS</text>
<line x1="187.5" y1="66.90" x2="213.6" y2="66.90" stroke="#22a055" stroke-width="1.3"/>
<text x="217.6" y="71.05" class="t115">1.5% PEG-GO/CS</text>
<text x="49.8" y="35.0" class="t15">(a)</text>
<text x="170.5" y="97.3" text-anchor="middle" class="t115">&#955;= 468 nm</text>
<text x="180.4" y="256.4" text-anchor="middle" class="t15">Wavelength (nm)</text>
<text transform="translate(12.4 113.3) rotate(-90)" text-anchor="middle" class="t15">Absorbance (a.u.)</text>
<rect x="394.50" y="170.50" width="76.00" height="49.30" fill="#fecb92" stroke="#857a6e" stroke-width="1"/>
<rect x="488.50" y="67.50" width="76.00" height="152.30" fill="#fecb92" stroke="#857a6e" stroke-width="1"/>
<rect x="583.50" y="134.50" width="75.00" height="85.30" fill="#fecb92" stroke="#857a6e" stroke-width="1"/>
<path d="M432.35 167.77 V173.34 M430.15 167.77 H434.55 M430.15 173.34 H434.55" stroke="#1a1a1a" stroke-width="1.2" fill="none"/>
<path d="M526.45 60.19 V75.39 M524.25 60.19 H528.65 M524.25 75.39 H528.65" stroke="#1a1a1a" stroke-width="1.2" fill="none"/>
<path d="M620.55 129.99 V138.33 M618.35 129.99 H622.75 M618.35 138.33 H622.75" stroke="#1a1a1a" stroke-width="1.2" fill="none"/>
<path d="M385.30 5.70 H667.60 V219.80" fill="none" stroke="#8a8a8a" stroke-width="1"/>
<path d="M385.30 5.70 V220.40" fill="none" stroke="#2a2a2a" stroke-width="1.4"/>
<path d="M385.30 219.80 H668.10" fill="none" stroke="#3c3c3c" stroke-width="1.25"/>
<line x1="381.90" y1="219.80" x2="385.30" y2="219.80" stroke="#2a2a2a" stroke-width="1.1"/>
<line x1="383.30" y1="198.39" x2="385.30" y2="198.39" stroke="#2a2a2a" stroke-width="1.1"/>
<line x1="381.90" y1="176.98" x2="385.30" y2="176.98" stroke="#2a2a2a" stroke-width="1.1"/>
<line x1="383.30" y1="155.57" x2="385.30" y2="155.57" stroke="#2a2a2a" stroke-width="1.1"/>
<line x1="381.90" y1="134.16" x2="385.30" y2="134.16" stroke="#2a2a2a" stroke-width="1.1"/>
<line x1="383.30" y1="112.75" x2="385.30" y2="112.75" stroke="#2a2a2a" stroke-width="1.1"/>
<line x1="381.90" y1="91.34" x2="385.30" y2="91.34" stroke="#2a2a2a" stroke-width="1.1"/>
<line x1="383.30" y1="69.93" x2="385.30" y2="69.93" stroke="#2a2a2a" stroke-width="1.1"/>
<line x1="381.90" y1="48.52" x2="385.30" y2="48.52" stroke="#2a2a2a" stroke-width="1.1"/>
<line x1="383.30" y1="27.11" x2="385.30" y2="27.11" stroke="#2a2a2a" stroke-width="1.1"/>
<line x1="381.90" y1="5.70" x2="385.30" y2="5.70" stroke="#2a2a2a" stroke-width="1.1"/>
<text x="379.4" y="224.00" text-anchor="end" class="t11">0</text>
<text x="379.4" y="181.18" text-anchor="end" class="t11">20</text>
<text x="379.4" y="138.36" text-anchor="end" class="t11">40</text>
<text x="379.4" y="95.54" text-anchor="end" class="t11">60</text>
<text x="379.4" y="52.72" text-anchor="end" class="t11">80</text>
<text x="379.4" y="9.90" text-anchor="end" class="t11">100</text>
<line x1="432.35" y1="219.80" x2="432.35" y2="223.20" stroke="#2a2a2a" stroke-width="1.1"/>
<line x1="479.40" y1="219.80" x2="479.40" y2="221.80" stroke="#2a2a2a" stroke-width="1.1"/>
<line x1="526.45" y1="219.80" x2="526.45" y2="223.20" stroke="#2a2a2a" stroke-width="1.1"/>
<line x1="573.50" y1="219.80" x2="573.50" y2="221.80" stroke="#2a2a2a" stroke-width="1.1"/>
<line x1="620.55" y1="219.80" x2="620.55" y2="223.20" stroke="#2a2a2a" stroke-width="1.1"/>
<text x="432.35" y="234.4" text-anchor="middle" class="t115">GO/CS</text>
<text x="526.45" y="234.4" text-anchor="middle" class="t115">1.5% PEG-GO/CS</text>
<text x="620.55" y="234.4" text-anchor="middle" class="t115">2% PEG-GO/CS</text>
<text x="397.4" y="28.6" class="t15">(b)</text>
<text x="526.3" y="256.1" text-anchor="middle" class="t15">Samples</text>
<text transform="translate(355.4 112.3) rotate(-90)" text-anchor="middle" class="t15">Removal (%)</text>
</svg>
</body></html>
